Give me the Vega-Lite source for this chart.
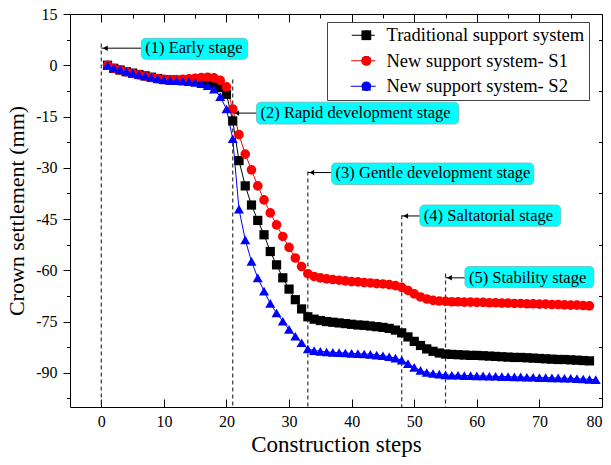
{
  "$schema": "https://vega.github.io/schema/vega-lite/v6.json",
  "width": 532,
  "height": 393,
  "autosize": {"type": "none"},
  "padding": {"left": 70, "top": 14, "right": 9, "bottom": 58},
  "background": "white",
  "config": {
    "font": "Liberation Serif",
    "view": {"stroke": null},
    "axis": {"labelFont": "Liberation Serif", "titleFont": "Liberation Serif", "labelColor": "black", "titleColor": "black", "domainColor": "black", "tickColor": "black", "grid": false, "titleFontWeight": "normal", "domainWidth": 1, "tickWidth": 1, "labelOverlap": false},
    "legend": {"labelFont": "Liberation Serif", "labelColor": "black"}
  },
  "datasets": {
    "series": [
      {"series":"Traditional support system","step":1,"value":0},
      {"series":"Traditional support system","step":2,"value":-0.9},
      {"series":"Traditional support system","step":3,"value":-1.4},
      {"series":"Traditional support system","step":4,"value":-1.9},
      {"series":"Traditional support system","step":5,"value":-2.3},
      {"series":"Traditional support system","step":6,"value":-2.7},
      {"series":"Traditional support system","step":7,"value":-3.1},
      {"series":"Traditional support system","step":8,"value":-3.5},
      {"series":"Traditional support system","step":9,"value":-3.9},
      {"series":"Traditional support system","step":10,"value":-4.2},
      {"series":"Traditional support system","step":11,"value":-4.3},
      {"series":"Traditional support system","step":12,"value":-4.4},
      {"series":"Traditional support system","step":13,"value":-4.5},
      {"series":"Traditional support system","step":14,"value":-4.6},
      {"series":"Traditional support system","step":15,"value":-4.7},
      {"series":"Traditional support system","step":16,"value":-4.9},
      {"series":"Traditional support system","step":17,"value":-5.2},
      {"series":"Traditional support system","step":18,"value":-5.7},
      {"series":"Traditional support system","step":19,"value":-6.5},
      {"series":"Traditional support system","step":20,"value":-8.5},
      {"series":"Traditional support system","step":21,"value":-16.3},
      {"series":"Traditional support system","step":22,"value":-27.9},
      {"series":"Traditional support system","step":23,"value":-35.3},
      {"series":"Traditional support system","step":24,"value":-40.9},
      {"series":"Traditional support system","step":25,"value":-45.4},
      {"series":"Traditional support system","step":26,"value":-49.6},
      {"series":"Traditional support system","step":27,"value":-54.5},
      {"series":"Traditional support system","step":28,"value":-58.4},
      {"series":"Traditional support system","step":29,"value":-62.2},
      {"series":"Traditional support system","step":30,"value":-65.5},
      {"series":"Traditional support system","step":31,"value":-68.6},
      {"series":"Traditional support system","step":32,"value":-71.3},
      {"series":"Traditional support system","step":33,"value":-73.6},
      {"series":"Traditional support system","step":34,"value":-74.3},
      {"series":"Traditional support system","step":35,"value":-74.7},
      {"series":"Traditional support system","step":36,"value":-75.0},
      {"series":"Traditional support system","step":37,"value":-75.2},
      {"series":"Traditional support system","step":38,"value":-75.4},
      {"series":"Traditional support system","step":39,"value":-75.6},
      {"series":"Traditional support system","step":40,"value":-75.8},
      {"series":"Traditional support system","step":41,"value":-76.0},
      {"series":"Traditional support system","step":42,"value":-76.1},
      {"series":"Traditional support system","step":43,"value":-76.3},
      {"series":"Traditional support system","step":44,"value":-76.5},
      {"series":"Traditional support system","step":45,"value":-76.7},
      {"series":"Traditional support system","step":46,"value":-77.0},
      {"series":"Traditional support system","step":47,"value":-77.5},
      {"series":"Traditional support system","step":48,"value":-78.3},
      {"series":"Traditional support system","step":49,"value":-79.5},
      {"series":"Traditional support system","step":50,"value":-80.8},
      {"series":"Traditional support system","step":51,"value":-82.0},
      {"series":"Traditional support system","step":52,"value":-83.0},
      {"series":"Traditional support system","step":53,"value":-83.7},
      {"series":"Traditional support system","step":54,"value":-84.2},
      {"series":"Traditional support system","step":55,"value":-84.5},
      {"series":"Traditional support system","step":56,"value":-84.6},
      {"series":"Traditional support system","step":57,"value":-84.7},
      {"series":"Traditional support system","step":58,"value":-84.8},
      {"series":"Traditional support system","step":59,"value":-84.9},
      {"series":"Traditional support system","step":60,"value":-84.9},
      {"series":"Traditional support system","step":61,"value":-85.0},
      {"series":"Traditional support system","step":62,"value":-85.1},
      {"series":"Traditional support system","step":63,"value":-85.2},
      {"series":"Traditional support system","step":64,"value":-85.3},
      {"series":"Traditional support system","step":65,"value":-85.4},
      {"series":"Traditional support system","step":66,"value":-85.5},
      {"series":"Traditional support system","step":67,"value":-85.5},
      {"series":"Traditional support system","step":68,"value":-85.6},
      {"series":"Traditional support system","step":69,"value":-85.7},
      {"series":"Traditional support system","step":70,"value":-85.8},
      {"series":"Traditional support system","step":71,"value":-85.9},
      {"series":"Traditional support system","step":72,"value":-86.0},
      {"series":"Traditional support system","step":73,"value":-86.1},
      {"series":"Traditional support system","step":74,"value":-86.1},
      {"series":"Traditional support system","step":75,"value":-86.2},
      {"series":"Traditional support system","step":76,"value":-86.3},
      {"series":"Traditional support system","step":77,"value":-86.4},
      {"series":"Traditional support system","step":78,"value":-86.5},
      {"series":"New support system- S1","step":1,"value":0},
      {"series":"New support system- S1","step":2,"value":-0.9},
      {"series":"New support system- S1","step":3,"value":-1.4},
      {"series":"New support system- S1","step":4,"value":-1.9},
      {"series":"New support system- S1","step":5,"value":-2.4},
      {"series":"New support system- S1","step":6,"value":-2.8},
      {"series":"New support system- S1","step":7,"value":-3.2},
      {"series":"New support system- S1","step":8,"value":-3.6},
      {"series":"New support system- S1","step":9,"value":-3.9},
      {"series":"New support system- S1","step":10,"value":-4.1},
      {"series":"New support system- S1","step":11,"value":-4.2},
      {"series":"New support system- S1","step":12,"value":-4.2},
      {"series":"New support system- S1","step":13,"value":-4.1},
      {"series":"New support system- S1","step":14,"value":-4.0},
      {"series":"New support system- S1","step":15,"value":-3.8},
      {"series":"New support system- S1","step":16,"value":-3.6},
      {"series":"New support system- S1","step":17,"value":-3.5},
      {"series":"New support system- S1","step":18,"value":-3.7},
      {"series":"New support system- S1","step":19,"value":-4.4},
      {"series":"New support system- S1","step":20,"value":-6.3},
      {"series":"New support system- S1","step":21,"value":-12.8},
      {"series":"New support system- S1","step":22,"value":-20.3},
      {"series":"New support system- S1","step":23,"value":-26.0},
      {"series":"New support system- S1","step":24,"value":-30.6},
      {"series":"New support system- S1","step":25,"value":-35.3},
      {"series":"New support system- S1","step":26,"value":-39.4},
      {"series":"New support system- S1","step":27,"value":-43.2},
      {"series":"New support system- S1","step":28,"value":-46.7},
      {"series":"New support system- S1","step":29,"value":-50.1},
      {"series":"New support system- S1","step":30,"value":-53.3},
      {"series":"New support system- S1","step":31,"value":-56.4},
      {"series":"New support system- S1","step":32,"value":-58.9},
      {"series":"New support system- S1","step":33,"value":-61.0},
      {"series":"New support system- S1","step":34,"value":-61.8},
      {"series":"New support system- S1","step":35,"value":-62.2},
      {"series":"New support system- S1","step":36,"value":-62.5},
      {"series":"New support system- S1","step":37,"value":-62.7},
      {"series":"New support system- S1","step":38,"value":-62.9},
      {"series":"New support system- S1","step":39,"value":-63.1},
      {"series":"New support system- S1","step":40,"value":-63.3},
      {"series":"New support system- S1","step":41,"value":-63.4},
      {"series":"New support system- S1","step":42,"value":-63.6},
      {"series":"New support system- S1","step":43,"value":-63.7},
      {"series":"New support system- S1","step":44,"value":-63.9},
      {"series":"New support system- S1","step":45,"value":-64.0},
      {"series":"New support system- S1","step":46,"value":-64.2},
      {"series":"New support system- S1","step":47,"value":-64.5},
      {"series":"New support system- S1","step":48,"value":-65.0},
      {"series":"New support system- S1","step":49,"value":-65.9},
      {"series":"New support system- S1","step":50,"value":-66.9},
      {"series":"New support system- S1","step":51,"value":-67.8},
      {"series":"New support system- S1","step":52,"value":-68.4},
      {"series":"New support system- S1","step":53,"value":-68.8},
      {"series":"New support system- S1","step":54,"value":-69.0},
      {"series":"New support system- S1","step":55,"value":-69.1},
      {"series":"New support system- S1","step":56,"value":-69.2},
      {"series":"New support system- S1","step":57,"value":-69.2},
      {"series":"New support system- S1","step":58,"value":-69.3},
      {"series":"New support system- S1","step":59,"value":-69.3},
      {"series":"New support system- S1","step":60,"value":-69.4},
      {"series":"New support system- S1","step":61,"value":-69.4},
      {"series":"New support system- S1","step":62,"value":-69.5},
      {"series":"New support system- S1","step":63,"value":-69.5},
      {"series":"New support system- S1","step":64,"value":-69.6},
      {"series":"New support system- S1","step":65,"value":-69.6},
      {"series":"New support system- S1","step":66,"value":-69.7},
      {"series":"New support system- S1","step":67,"value":-69.7},
      {"series":"New support system- S1","step":68,"value":-69.8},
      {"series":"New support system- S1","step":69,"value":-69.8},
      {"series":"New support system- S1","step":70,"value":-69.9},
      {"series":"New support system- S1","step":71,"value":-69.9},
      {"series":"New support system- S1","step":72,"value":-70.0},
      {"series":"New support system- S1","step":73,"value":-70.0},
      {"series":"New support system- S1","step":74,"value":-70.1},
      {"series":"New support system- S1","step":75,"value":-70.2},
      {"series":"New support system- S1","step":76,"value":-70.2},
      {"series":"New support system- S1","step":77,"value":-70.3},
      {"series":"New support system- S1","step":78,"value":-70.4},
      {"series":"New support system- S2","step":1,"value":0},
      {"series":"New support system- S2","step":2,"value":-0.8},
      {"series":"New support system- S2","step":3,"value":-1.3},
      {"series":"New support system- S2","step":4,"value":-1.8},
      {"series":"New support system- S2","step":5,"value":-2.3},
      {"series":"New support system- S2","step":6,"value":-2.7},
      {"series":"New support system- S2","step":7,"value":-3.1},
      {"series":"New support system- S2","step":8,"value":-3.5},
      {"series":"New support system- S2","step":9,"value":-3.9},
      {"series":"New support system- S2","step":10,"value":-4.2},
      {"series":"New support system- S2","step":11,"value":-4.4},
      {"series":"New support system- S2","step":12,"value":-4.5},
      {"series":"New support system- S2","step":13,"value":-4.6},
      {"series":"New support system- S2","step":14,"value":-4.8},
      {"series":"New support system- S2","step":15,"value":-5.0},
      {"series":"New support system- S2","step":16,"value":-5.4},
      {"series":"New support system- S2","step":17,"value":-6.0},
      {"series":"New support system- S2","step":18,"value":-7.0},
      {"series":"New support system- S2","step":19,"value":-9.2},
      {"series":"New support system- S2","step":20,"value":-12.8},
      {"series":"New support system- S2","step":21,"value":-21.5},
      {"series":"New support system- S2","step":22,"value":-42.1},
      {"series":"New support system- S2","step":23,"value":-51.1},
      {"series":"New support system- S2","step":24,"value":-57.4},
      {"series":"New support system- S2","step":25,"value":-62.2},
      {"series":"New support system- S2","step":26,"value":-66.1},
      {"series":"New support system- S2","step":27,"value":-69.7},
      {"series":"New support system- S2","step":28,"value":-72.5},
      {"series":"New support system- S2","step":29,"value":-74.9},
      {"series":"New support system- S2","step":30,"value":-77.3},
      {"series":"New support system- S2","step":31,"value":-79.3},
      {"series":"New support system- S2","step":32,"value":-81.2},
      {"series":"New support system- S2","step":33,"value":-83.0},
      {"series":"New support system- S2","step":34,"value":-83.5},
      {"series":"New support system- S2","step":35,"value":-83.7},
      {"series":"New support system- S2","step":36,"value":-83.9},
      {"series":"New support system- S2","step":37,"value":-84.0},
      {"series":"New support system- S2","step":38,"value":-84.1},
      {"series":"New support system- S2","step":39,"value":-84.2},
      {"series":"New support system- S2","step":40,"value":-84.3},
      {"series":"New support system- S2","step":41,"value":-84.4},
      {"series":"New support system- S2","step":42,"value":-84.5},
      {"series":"New support system- S2","step":43,"value":-84.6},
      {"series":"New support system- S2","step":44,"value":-84.8},
      {"series":"New support system- S2","step":45,"value":-85.0},
      {"series":"New support system- S2","step":46,"value":-85.3},
      {"series":"New support system- S2","step":47,"value":-85.7},
      {"series":"New support system- S2","step":48,"value":-86.3},
      {"series":"New support system- S2","step":49,"value":-87.3},
      {"series":"New support system- S2","step":50,"value":-88.4},
      {"series":"New support system- S2","step":51,"value":-89.3},
      {"series":"New support system- S2","step":52,"value":-89.9},
      {"series":"New support system- S2","step":53,"value":-90.2},
      {"series":"New support system- S2","step":54,"value":-90.4},
      {"series":"New support system- S2","step":55,"value":-90.6},
      {"series":"New support system- S2","step":56,"value":-90.7},
      {"series":"New support system- S2","step":57,"value":-90.7},
      {"series":"New support system- S2","step":58,"value":-90.8},
      {"series":"New support system- S2","step":59,"value":-90.8},
      {"series":"New support system- S2","step":60,"value":-90.9},
      {"series":"New support system- S2","step":61,"value":-90.9},
      {"series":"New support system- S2","step":62,"value":-91.0},
      {"series":"New support system- S2","step":63,"value":-91.0},
      {"series":"New support system- S2","step":64,"value":-91.1},
      {"series":"New support system- S2","step":65,"value":-91.1},
      {"series":"New support system- S2","step":66,"value":-91.2},
      {"series":"New support system- S2","step":67,"value":-91.2},
      {"series":"New support system- S2","step":68,"value":-91.3},
      {"series":"New support system- S2","step":69,"value":-91.3},
      {"series":"New support system- S2","step":70,"value":-91.4},
      {"series":"New support system- S2","step":71,"value":-91.4},
      {"series":"New support system- S2","step":72,"value":-91.5},
      {"series":"New support system- S2","step":73,"value":-91.5},
      {"series":"New support system- S2","step":74,"value":-91.6},
      {"series":"New support system- S2","step":75,"value":-91.6},
      {"series":"New support system- S2","step":76,"value":-91.7},
      {"series":"New support system- S2","step":77,"value":-91.8},
      {"series":"New support system- S2","step":78,"value":-91.9},
      {"series":"New support system- S2","step":79,"value":-92.0}
    ],
    "stages": [
      {"label":"(1) Early stage","step":0,"top":6.4,"arrow":5.0,"bx1":6.4,"bx2":23.4,"by1":1.75,"by2":7.9},
      {"label":"(2) Rapid development stage","step":21,"top":-4.2,"arrow":-14.0,"bx1":24.8,"bx2":57.1,"by1":-17.2,"by2":-10.8},
      {"label":"(3) Gentle development stage","step":33,"top":-31.1,"arrow":-31.4,"bx1":36.8,"bx2":69.1,"by1":-34.9,"by2":-28.6},
      {"label":"(4) Saltatorial stage","step":48,"top":-43.9,"arrow":-44.1,"bx1":50.9,"bx2":73.4,"by1":-47.1,"by2":-40.9},
      {"label":"(5) Stability stage","step":55,"top":-60.9,"arrow":-62.2,"bx1":58.1,"bx2":78.7,"by1":-65.1,"by2":-58.9}
    ]
  },
  "layer": [
    {
      "layer": [
        {
          "data": {"name": "stages"},
          "mark": {"type": "rule", "color": "#333333", "strokeWidth": 1.2, "strokeDash": [4, 3]},
          "encoding": {
            "x": {"field": "step", "type": "quantitative"},
            "y": {"field": "top", "type": "quantitative"},
            "y2": {"datum": -100}
          }
        },
        {
          "data": {"name": "stages"},
          "mark": {"type": "rule", "color": "black", "strokeWidth": 1},
          "encoding": {
            "x": {"field": "step", "type": "quantitative"},
            "x2": {"field": "bx1"},
            "y": {"field": "arrow", "type": "quantitative"}
          }
        },
        {
          "data": {"name": "stages"},
          "mark": {"type": "point", "shape": "triangle-left", "filled": true, "color": "black", "opacity": 1, "size": 30, "xOffset": 4},
          "encoding": {
            "x": {"field": "step", "type": "quantitative"},
            "y": {"field": "arrow", "type": "quantitative"}
          }
        },
        {
          "data": {"name": "stages"},
          "mark": {"type": "rect", "fill": "#00FFFF", "stroke": "#6fb8b8", "strokeWidth": 0.8, "cornerRadius": 4},
          "encoding": {
            "x": {"field": "bx1", "type": "quantitative"},
            "x2": {"field": "bx2"},
            "y": {"field": "by1", "type": "quantitative"},
            "y2": {"field": "by2"}
          }
        },
        {
          "data": {"name": "stages"},
          "mark": {"type": "text", "align": "left", "baseline": "middle", "fontSize": 16.5, "color": "black", "dx": 4, "font": "Liberation Serif"},
          "encoding": {
            "x": {"field": "bx1", "type": "quantitative"},
            "y": {"field": "arrow", "type": "quantitative"},
            "text": {"field": "label"}
          }
        },
        {
          "data": {"name": "series"},
          "mark": {"type": "line", "strokeWidth": 1},
          "encoding": {
            "x": {
              "field": "step", "type": "quantitative",
              "scale": {"domain": [-5, 80], "nice": false, "zero": false},
              "axis": {
                "orient": "bottom", "title": "Construction steps",
                "values": [0,5,10,15,20,25,30,35,40,45,50,55,60,65,70,75,80],
                "labelExpr": "datum.value % 10 === 0 ? '' + datum.value : ''",
                "tickSize": {"condition": {"test": "datum.value % 10 !== 0", "value": -4}, "value": -8},
                "labelFontSize": 16, "labelPadding": 14, "titleFontSize": 23, "titlePadding": 4, "labelOverlap": false
              }
            },
            "y": {
              "field": "value", "type": "quantitative",
              "scale": {"domain": [-100, 15], "nice": false, "zero": false},
              "axis": {
                "orient": "right", "title": null, "labels": false,
                "values": [-97.5,-90,-82.5,-75,-67.5,-60,-52.5,-45,-37.5,-30,-22.5,-15,-7.5,0,7.5,15],
                "tickSize": {"condition": {"test": "abs(datum.value % 15) > 0.01", "value": -3.5}, "value": -7}
              }
            },
            "stroke": {
              "field": "series", "type": "nominal",
              "scale": {"domain": ["Traditional support system", "New support system- S1", "New support system- S2"], "range": ["#000000", "#FF0000", "#0000FF"]},
              "legend": {
                "title": null, "orient": "none", "legendX": 257, "legendY": 8,
                "labelFontSize": 18.5, "labelLimit": 400,
                "symbolType": "M-2.5,0H2.5", "symbolSize": 256, "symbolStrokeWidth": 1,
                "symbolOffset": 23, "labelOffset": 14, "rowPadding": 6.5, "padding": 4,
                "strokeColor": "#444444", "cornerRadius": 0
              }
            }
          }
        },
        {
          "data": {"name": "series"},
          "mark": {"type": "point", "filled": true, "opacity": 1},
          "encoding": {
            "x": {"field": "step", "type": "quantitative"},
            "y": {"field": "value", "type": "quantitative"},
            "fill": {
              "field": "series", "type": "nominal",
              "sort": ["Traditional support system", "New support system- S1", "New support system- S2"],
              "scale": {"range": ["#000000", "#FF0000", "#0000FF"]},
              "legend": {
                "title": null, "orient": "none", "legendX": 257, "legendY": 8,
                "labelFontSize": 18.5, "labelExpr": "''",
                "symbolSize": 95, "symbolOffset": 26.1, "labelOffset": 20.5, "rowPadding": 6.5, "padding": 4
              }
            },
            "shape": {
              "field": "series", "type": "nominal",
              "sort": ["Traditional support system", "New support system- S1", "New support system- S2"],
              "scale": {"range": ["square", "circle", "triangle-up"]},
              "legend": {
                "title": null, "orient": "none", "legendX": 257, "legendY": 8,
                "labelFontSize": 18.5, "labelExpr": "''",
                "symbolSize": 95, "symbolOffset": 26.1, "labelOffset": 20.5, "rowPadding": 6.5, "padding": 4
              }
            },
            "size": {
              "field": "series", "type": "nominal", "legend": null,
              "scale": {"domain": ["Traditional support system", "New support system- S1", "New support system- S2"], "range": [85, 100, 110]}
            }
          }
        }
      ]
    },
    {
      "data": {"name": "stages"},
      "mark": {"type": "point", "opacity": 0},
      "encoding": {
        "x": {
          "field": "step", "type": "quantitative",
          "axis": {
            "orient": "top", "title": null, "labels": false,
            "values": [0,5,10,15,20,25,30,35,40,45,50,55,60,65,70,75,80],
            "tickSize": {"condition": {"test": "datum.value % 10 !== 0", "value": -4}, "value": -8}
          }
        },
        "y": {
          "field": "arrow", "type": "quantitative",
          "axis": {
            "orient": "left", "title": "Crown settlement (mm)",
            "values": [-97.5,-90,-82.5,-75,-67.5,-60,-52.5,-45,-37.5,-30,-22.5,-15,-7.5,0,7.5,15],
            "labelExpr": "abs(datum.value % 15) < 0.01 ? '' + datum.value : ''",
            "tickSize": {"condition": {"test": "abs(datum.value % 15) > 0.01", "value": 3.5}, "value": 7},
            "labelFontSize": 16, "labelPadding": 6, "titleFontSize": 22, "titlePadding": 7, "labelOverlap": false
          }
        }
      }
    }
  ],
  "resolve": {"axis": {"x": "independent", "y": "independent"}}
}
